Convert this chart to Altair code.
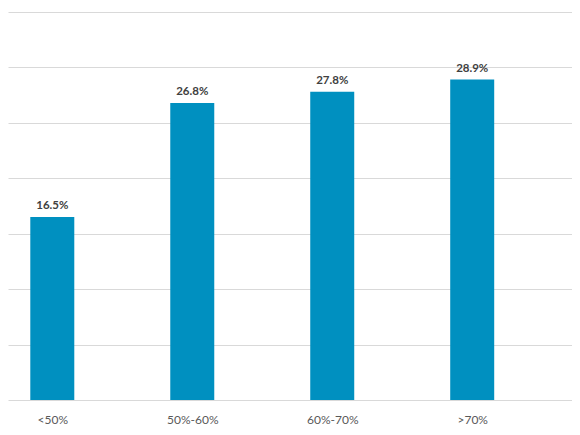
import altair as alt
import pandas as pd

categories = ["<50%", "50%-60%", "60%-70%", ">70%"]
values = [16.5, 26.8, 27.8, 28.9]
labels = ["16.5%", "26.8%", "27.8%", "28.9%"]

df = pd.DataFrame({"idx": list(range(len(categories))), "cat": categories,
                   "val": values, "lab": labels})

label_expr = "[" + ",".join("'" + c + "'" for c in categories) + "][datum.value]"

x = alt.X("idx:Q", title=None,
          scale=alt.Scale(domain=[-0.2807, 3.6772], nice=False, zero=False),
          axis=alt.Axis(values=list(range(len(categories))), labelExpr=label_expr,
                        grid=False, ticks=False, domain=False, labelPadding=14,
                        labelFont="Lato", labelFontSize=12, labelColor="#595959"))
y = alt.Y("val:Q", title=None,
          scale=alt.Scale(domain=[0, 35], nice=False),
          axis=alt.Axis(values=[0, 5, 10, 15, 20, 25, 30, 35], labels=False, ticks=False,
                        domain=False, gridColor="#D9D9D9", gridWidth=1))

bars = alt.Chart(df).mark_bar(size=44, color="#0090C0").encode(x=x, y=y)
text = alt.Chart(df).mark_text(baseline="bottom", dy=-6, font="Lato", fontSize=11.5,
                               fontWeight="bold", color="#404040").encode(
    x="idx:Q", y="val:Q", text="lab:N")

chart = (bars + text).properties(
    width=564, height=388,
    autosize=alt.AutoSizeParams(type="none"),
    padding={"left": 0, "top": 4, "right": 0, "bottom": 27},
).configure_view(stroke=None)

chart.save("out.html", embed_options={"renderer": "svg", "actions": False})
